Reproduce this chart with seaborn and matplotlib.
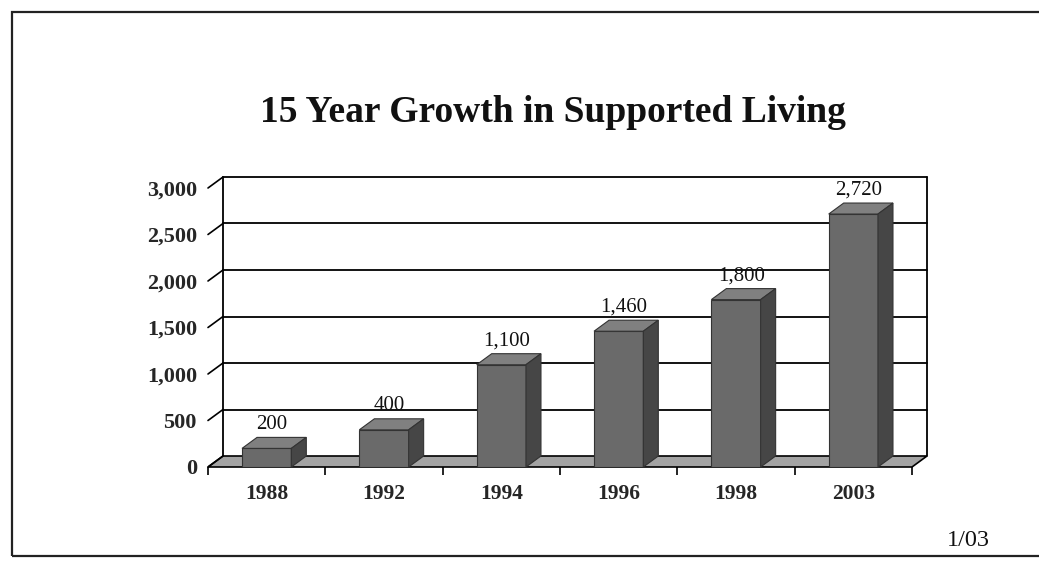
import matplotlib
matplotlib.use("Agg")
import matplotlib.pyplot as plt
import seaborn as sns
import pandas as pd
from matplotlib.patches import Polygon, Rectangle

# ---- data ----
years = ["1988", "1992", "1994", "1996", "1998", "2003"]
values = [200, 400, 1100, 1460, 1800, 2720]
value_labels = ["200", "400", "1,100", "1,460", "1,800", "2,720"]
y_ticks = [0, 500, 1000, 1500, 2000, 2500, 3000]
y_tick_labels = ["0", "500", "1,000", "1,500", "2,000", "2,500", "3,000"]
title = "15 Year Growth in Supported Living"
footer = "1/03"

sns.set_theme(style="white")
plt.rcParams["font.family"] = ["Liberation Serif", "DejaVu Serif"]

W, H = 1039, 561
fig = plt.figure(figsize=(W / 100, H / 100), dpi=100)
fig.patch.set_facecolor("white")

# axes = front plane of the 3D chart
left_px, right_px = 208, 912
bot_px, top_px = 467, 188
ax = fig.add_axes([left_px / W, (H - bot_px) / H,
                   (right_px - left_px) / W, (bot_px - top_px) / H])
ax.set_facecolor("none")
ax.set_xlim(-0.5, 5.5)
ax.set_ylim(0, 3000)

px_x = (right_px - left_px) / 6.0
px_y = (bot_px - top_px) / 3000.0
dx = 15 / px_x          # depth offset in data units
dy = 11 / px_y

df = pd.DataFrame({"year": years, "value": values})
front_c = "#6a6a6a"
top_c = "#808080"
side_c = "#464646"
sns.barplot(data=df, x="year", y="value", color=front_c, width=0.42,
            edgecolor="#333333", linewidth=0.8, saturation=1, ax=ax, zorder=5)

# floor
floor = Polygon([(-0.5, 0), (-0.5 + dx, dy), (5.5 + dx, dy), (5.5, 0)],
                closed=True, facecolor="#a3a3a3", edgecolor="black",
                linewidth=1.2, clip_on=False, zorder=2)
ax.add_patch(floor)

# back wall gridlines and walls
for v in y_ticks[1:]:
    ax.plot([-0.5 + dx, 5.5 + dx], [v + dy, v + dy], color="black",
            lw=1.3, clip_on=False, zorder=1)
for xw in (-0.5 + dx, 5.5 + dx):
    ax.plot([xw, xw], [dy, 3000 + dy], color="black", lw=1.3,
            clip_on=False, zorder=1)

# left diagonal ticks
for v in y_ticks:
    ax.plot([-0.5, -0.5 + dx], [v, v + dy], color="black", lw=1.2,
            clip_on=False, zorder=3)

# 3D faces for the bars
for p, lab in zip(ax.patches[:len(values)], value_labels):
    x0 = p.get_x()
    w = p.get_width()
    h = p.get_height()
    top = Polygon([(x0, h), (x0 + dx, h + dy), (x0 + w + dx, h + dy), (x0 + w, h)],
                  closed=True, facecolor=top_c, edgecolor="#333333", lw=0.8,
                  clip_on=False, zorder=6)
    side = Polygon([(x0 + w, 0), (x0 + w + dx, dy), (x0 + w + dx, h + dy), (x0 + w, h)],
                   closed=True, facecolor=side_c, edgecolor="#333333", lw=0.8,
                   clip_on=False, zorder=6)
    ax.add_patch(top)
    ax.add_patch(side)
    ax.text(x0 + w / 2 + dx * 0.35, h + dy + 13 / px_y, lab, ha="center",
            va="center", fontsize=15, color="#111111", zorder=7)

for s in ax.spines.values():
    s.set_visible(False)

ax.set_yticks(y_ticks)
ax.set_yticklabels(y_tick_labels, fontsize=16, fontweight="bold")
ax.set_xticks(range(len(years)))
ax.set_xticklabels(years, fontsize=15.5, fontweight="bold")
ax.set_xticks([k + 0.5 for k in range(-1, 6)], minor=True)
ax.tick_params(axis="y", length=0, pad=8)
ax.tick_params(axis="x", which="major", length=0, pad=12)
ax.tick_params(axis="x", which="minor", length=6, width=1.2, color="black",
               direction="out", bottom=True)
ax.set_xlabel("")
ax.set_ylabel("")

fig.text(553 / W, 1 - 112 / H, title, ha="center", va="center",
         fontsize=27, fontweight="bold", color="#111111")
fig.text(968 / W, 1 - 541 / H, footer, ha="center", va="center",
         fontsize=17.5, color="#111111")

# outer frame
fig.add_artist(Rectangle((12 / W, 5 / H), (1045 - 12) / W, (549 - 5) / H,
                         transform=fig.transFigure, fill=False,
                         edgecolor="#222222", lw=1.6))

fig.savefig("out.png", dpi=100)
